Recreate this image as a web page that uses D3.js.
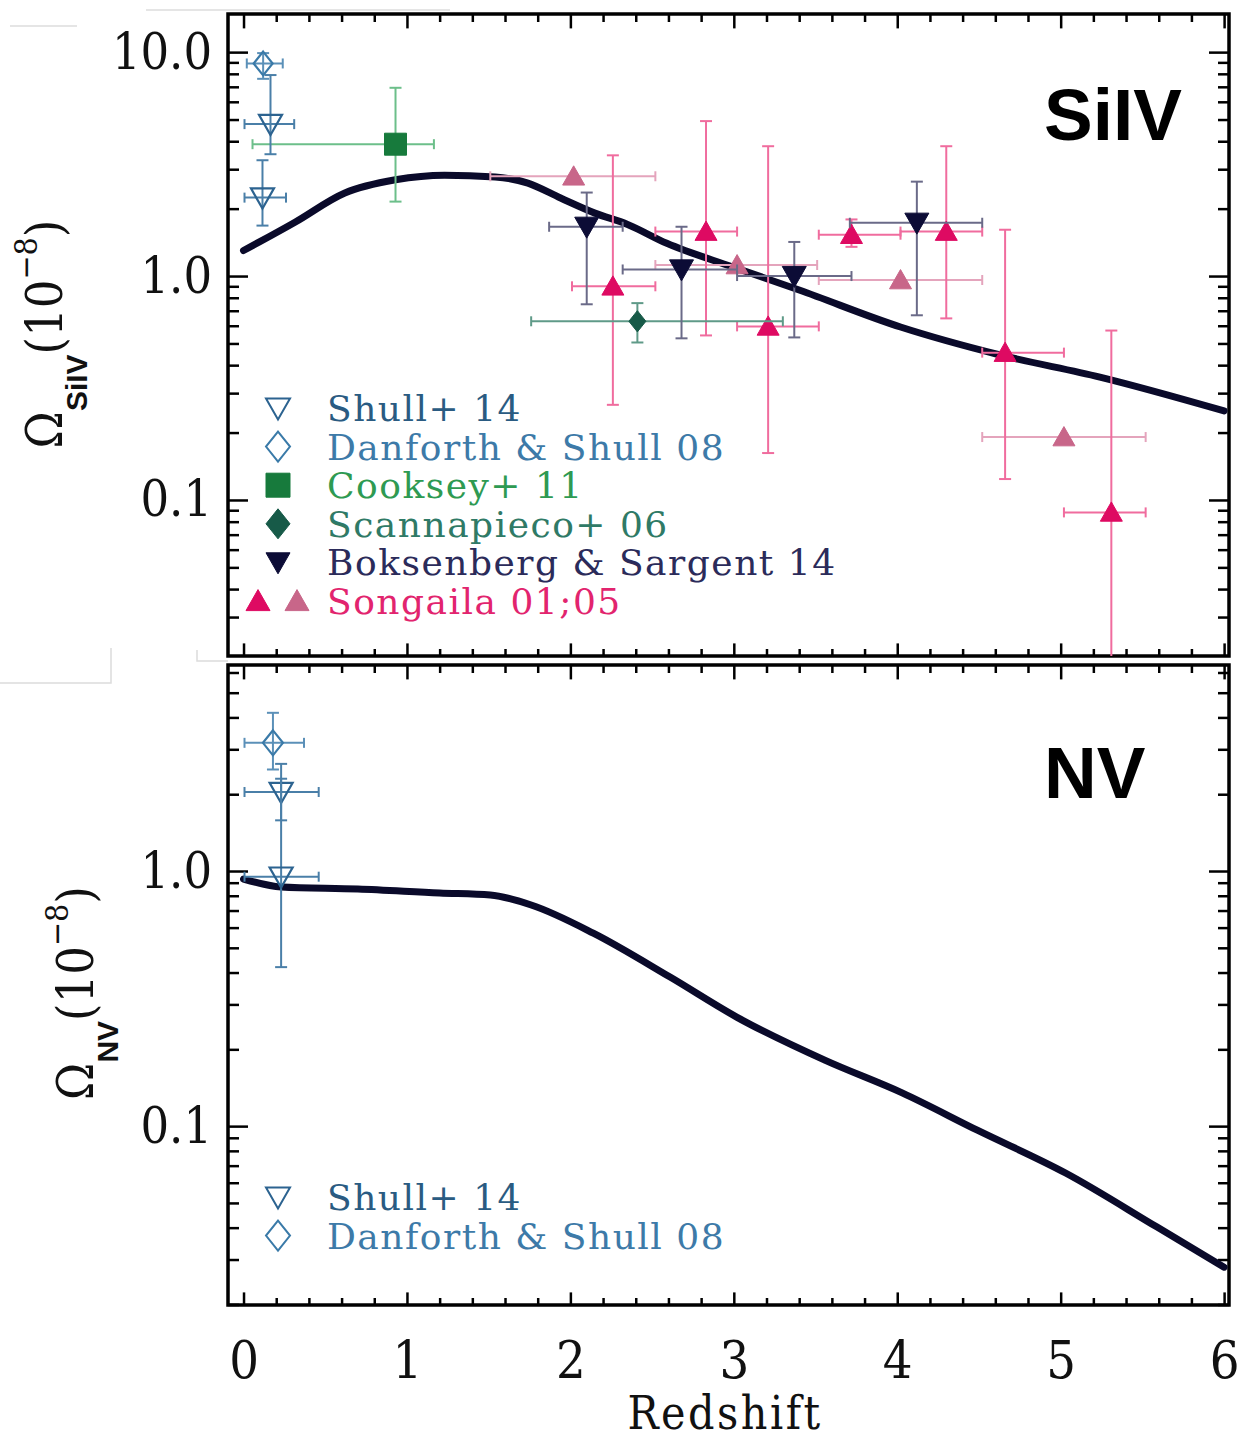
<!DOCTYPE html>
<html>
<head>
<meta charset="utf-8">
<script src="https://cdn.jsdelivr.net/npm/d3@7"></script>
<style>
  body { margin: 0; background: #fff; }
  .serif { font-family: "DejaVu Serif Condensed", "DejaVu Serif", serif; font-stretch: condensed; }
</style>
</head>
<body>
<div id="grafico"></div>
<script>
// Curvas del modelo (redshift, Omega en unidades de 1e-8)
const zModeloSiIV = [0.0, 0.315, 0.62, 0.93, 1.23, 1.54, 1.74, 1.94, 2.15, 2.35, 2.59, 2.99, 3.40, 4.02, 4.63, 5.24, 6.0];
const vModeloSiIV = [1.30, 1.74, 2.35, 2.69, 2.82, 2.77, 2.60, 2.23, 1.91, 1.70, 1.40, 1.10, 0.866, 0.592, 0.444, 0.354, 0.25];
const zModeloNV = [0.0, 0.23, 0.7, 1.20, 1.51, 1.76, 2.14, 2.61, 3.02, 3.56, 4.03, 4.49, 5.03, 5.59, 6.0];
const vModeloNV = [0.93, 0.866, 0.85, 0.82, 0.805, 0.736, 0.571, 0.384, 0.267, 0.181, 0.135, 0.0964, 0.0655, 0.0402, 0.028];

// Observaciones: [z, zMin, zMax, valor, valorMin, valorMax]
const shullSiIV = [[0.165, 0.006, 0.31, 4.77, 3.5, 7.9], [0.116, 0.006, 0.26, 2.24, 1.68, 3.29]];
const danforthSiIV = [[0.12, 0.02, 0.24, 8.9, 7.6, 9.9]];
const cookseySiIV = [[0.93, 0.055, 1.165, 3.88, 2.15, 6.93]];
const scannapiecoSiIV = [[2.41, 1.76, 3.3, 0.628, 0.505, 0.757]];
const boksenbergSiIV = [
  [2.10, 1.87, 2.32, 1.66, 0.748, 2.36],
  [2.68, 2.32, 3.02, 1.07, 0.527, 1.66],
  [3.37, 3.02, 3.72, 1.0, 0.532, 1.42],
  [4.12, 3.71, 4.52, 1.73, 0.668, 2.64]
];
const songaila01SiIV = [
  [2.26, 2.01, 2.52, 0.90, 0.266, 3.46],
  [2.83, 2.52, 3.02, 1.58, 0.543, 4.92],
  [3.21, 3.02, 3.52, 0.596, 0.162, 3.8],
  [3.72, 3.52, 4.02, 1.53, 1.35, 1.79],
  [4.30, 4.02, 4.52, 1.58, 0.647, 3.8],
  [4.66, 4.52, 5.02, 0.455, 0.124, 1.61],
  [5.31, 5.02, 5.52, 0.088, 0.005, 0.571]
];
const songaila05SiIV = [
  [2.02, 1.51, 2.52, 2.79, 2.79, 2.79],
  [3.02, 2.52, 3.51, 1.12, 1.12, 1.12],
  [4.02, 3.52, 4.52, 0.96, 0.96, 0.96],
  [5.02, 4.52, 5.52, 0.191, 0.191, 0.191]
];
const shullNV = [[0.23, 0.006, 0.46, 2.04, 1.58, 2.63], [0.23, 0.006, 0.46, 0.95, 0.42, 2.3]];
const danforthNV = [[0.18, 0.006, 0.37, 3.18, 2.5, 4.17]];

const ticksX = [0, 1, 2, 3, 4, 5, 6];
const ticksYSiIV = [0.1, 1, 10];
const ticksYNV = [0.1, 1];
const textosLeyendaSiIV = ["Shull+ 14", "Danforth & Shull 08", "Cooksey+ 11", "Scannapieco+ 06", "Boksenberg & Sargent 14", "Songaila 01;05"];
const textosLeyendaNV = ["Shull+ 14", "Danforth & Shull 08"];

// Estilos por serie
const estilos = {
  shull: { color: "#2c6390", barra: "#4a7fa8", texto: "#2a5b82", simbolo: "trianguloAbajo", relleno: false },
  danforth: { color: "#3a7aa8", barra: "#5b90b8", texto: "#3d7aa8", simbolo: "rombo", relleno: false },
  cooksey: { color: "#177a3c", barra: "#6cbf8a", texto: "#2e9a52", simbolo: "cuadrado", relleno: true },
  scannapieco: { color: "#175a48", barra: "#5f9a88", texto: "#2f7a66", simbolo: "rombo", relleno: true },
  boksenberg: { color: "#0c0c36", barra: "#6a6a88", texto: "#2b2b5a", simbolo: "trianguloAbajo", relleno: true },
  songaila01: { color: "#de0a62", barra: "#f06c9e", texto: "#e2246e", simbolo: "trianguloArriba", relleno: true },
  songaila05: { color: "#c86689", barra: "#e4a4bc", texto: "#e2246e", simbolo: "trianguloArriba", relleno: true }
};

const ancho = 1245, alto = 1443;
const svg = d3.select("#grafico").append("svg").attr("width", ancho).attr("height", alto);

// artefactos grises del escaneo original
const gris = svg.append("g").attr("stroke", "#dcdcdc").attr("stroke-width", 1.5).attr("fill", "none");
gris.append("path").attr("d", "M10,26H77");
gris.append("path").attr("d", "M146,10H450");
gris.append("path").attr("d", "M0,683H111V648");
gris.append("path").attr("d", "M197,650V661H228");

const escalaX = d3.scaleLinear().domain([-0.095, 6.03]).range([228, 1229]);

function rutaSimbolo(tipo, t) {
  const h = t / 2;
  if (tipo === "trianguloAbajo") return `M${-h},${-h * 0.8}L${h},${-h * 0.8}L0,${h * 0.95}Z`;
  if (tipo === "trianguloArriba") return `M${-h},${h * 0.8}L${h},${h * 0.8}L0,${-h * 0.95}Z`;
  if (tipo === "rombo") return `M0,${-h * 1.25}L${h},0L0,${h * 1.25}L${-h},0Z`;
  return `M${-h},${-h}H${h}V${h}H${-h}Z`;
}

function dibujarPanel(cfg) {
  const g = svg.append("g");
  const y = d3.scaleLog().domain(cfg.dominio).range([cfg.abajo, cfg.arriba]);
  const [x0, x1] = escalaX.range();

  // ticks menores y mayores de X (arriba y abajo)
  const menoresX = d3.range(0, 6.01, 0.2).filter(v => Math.abs(v - Math.round(v)) > 1e-6);
  [[d3.axisBottom, cfg.abajo, -7], [d3.axisTop, cfg.arriba, -8]].forEach(([eje, yy, tam]) => {
    g.append("g").attr("transform", `translate(0,${yy})`)
      .call(eje(escalaX).tickValues(menoresX).tickSize(tam).tickFormat(""))
      .call(s => s.select(".domain").remove());
    g.append("g").attr("transform", `translate(0,${yy})`)
      .call(eje(escalaX).tickValues(ticksX).tickSize(tam * 1.8).tickFormat(""))
      .call(s => s.select(".domain").remove());
  });

  // ticks menores y mayores de Y (izquierda y derecha)
  const [dMin, dMax] = cfg.dominio;
  const menoresY = [];
  for (let e = -3; e <= 2; e++) for (let k = 2; k <= 9; k++) {
    const v = k * Math.pow(10, e);
    if (v > dMin && v < dMax) menoresY.push(v);
  }
  [[d3.axisLeft, x0], [d3.axisRight, x1]].forEach(([eje, xx]) => {
    g.append("g").attr("transform", `translate(${xx},0)`)
      .call(eje(y).tickValues(menoresY).tickSize(-11).tickFormat(""))
      .call(s => s.select(".domain").remove());
    g.append("g").attr("transform", `translate(${xx},0)`)
      .call(eje(y).tickValues(cfg.ticksY).tickSize(-20).tickFormat(""))
      .call(s => s.select(".domain").remove());
  });
  g.selectAll(".tick line").attr("stroke", "#000").attr("stroke-width", 2.5);

  // etiquetas del eje Y
  g.append("g").attr("transform", `translate(${x0},0)`)
    .call(d3.axisLeft(y).tickValues(cfg.ticksY).tickSize(0).tickPadding(16).tickFormat(d3.format(".1f")))
    .call(s => s.select(".domain").remove())
    .selectAll("text").attr("class", "serif").attr("font-size", 50).attr("fill", "#111");

  // marco
  g.append("rect").attr("x", x0).attr("y", cfg.arriba).attr("width", x1 - x0).attr("height", cfg.abajo - cfg.arriba)
    .attr("fill", "none").attr("stroke", "#000").attr("stroke-width", 3.5);

  // curva del modelo
  const datosModelo = cfg.modeloZ.map((z, i) => [z, cfg.modeloV[i]]);
  g.append("path").datum(datosModelo)
    .attr("fill", "none").attr("stroke", "#0a0a2a").attr("stroke-width", 7).attr("stroke-linecap", "round")
    .attr("d", d3.line().x(d => escalaX(d[0])).y(d => y(d[1])).curve(d3.curveMonotoneX));

  // puntos con barras de error
  const clip = "clip" + cfg.nombre;
  g.append("clipPath").attr("id", clip).append("rect")
    .attr("x", x0).attr("y", cfg.arriba).attr("width", x1 - x0).attr("height", cfg.abajo - cfg.arriba);
  const capa = g.append("g").attr("clip-path", `url(#${clip})`);
  cfg.series.forEach(([datos, est, tam]) => {
    const e = estilos[est];
    datos.forEach(d => {
      const cx = escalaX(d[0]), cy = y(d[3]);
      const b = capa.append("g").attr("stroke", e.barra).attr("stroke-width", 2).attr("fill", "none");
      b.append("line").attr("x1", escalaX(d[1])).attr("x2", escalaX(d[2])).attr("y1", cy).attr("y2", cy);
      b.append("line").attr("x1", escalaX(d[1])).attr("x2", escalaX(d[1])).attr("y1", cy - 5).attr("y2", cy + 5);
      b.append("line").attr("x1", escalaX(d[2])).attr("x2", escalaX(d[2])).attr("y1", cy - 5).attr("y2", cy + 5);
      if (d[4] !== d[5]) {
        b.append("line").attr("x1", cx).attr("x2", cx).attr("y1", y(d[4])).attr("y2", y(d[5]));
        b.append("line").attr("x1", cx - 6).attr("x2", cx + 6).attr("y1", y(d[4])).attr("y2", y(d[4]));
        b.append("line").attr("x1", cx - 6).attr("x2", cx + 6).attr("y1", y(d[5])).attr("y2", y(d[5]));
      }
      capa.append("path").attr("transform", `translate(${cx},${cy})`)
        .attr("d", rutaSimbolo(e.simbolo, tam))
        .attr("fill", e.relleno ? e.color : "none")
        .attr("stroke", e.color).attr("stroke-width", e.relleno ? 1 : 2.2);
    });
  });

  // leyenda
  cfg.leyenda.forEach(([texto, claves], i) => {
    const yy = cfg.leyendaY + i * 38.6;
    claves.forEach((k, j) => {
      const e = estilos[k];
      const sx = claves.length > 1 ? 258 + j * 39 : 278;
      g.append("path").attr("transform", `translate(${sx},${yy - 13})`)
        .attr("d", rutaSimbolo(e.simbolo, 24))
        .attr("fill", e.relleno ? e.color : "none")
        .attr("stroke", e.color).attr("stroke-width", e.relleno ? 1 : 2);
    });
    g.append("text").attr("x", 327).attr("y", yy)
      .attr("font-family", "DejaVu Serif, serif").attr("font-size", 36).attr("letter-spacing", 1.5)
      .attr("fill", estilos[claves[0]].texto).text(texto);
  });

  // etiqueta del ion
  g.append("text").attr("x", cfg.ionX).attr("y", cfg.ionY)
    .attr("font-family", "Liberation Sans, Arial, sans-serif").attr("font-weight", "bold")
    .attr("font-size", 73).attr("fill", "#000").text(cfg.ion);

  // título del eje Y
  const t = g.append("text").attr("class", "serif").attr("fill", "#111")
    .attr("transform", `translate(${cfg.tituloX},${cfg.tituloY}) rotate(-90)`).attr("text-anchor", "middle");
  t.append("tspan").attr("font-size", 50).text("Ω");
  t.append("tspan").attr("font-family", "Liberation Sans, Arial, sans-serif").attr("font-weight", "bold")
    .attr("font-size", 30).attr("dy", 25).text(cfg.ion);
  t.append("tspan").attr("font-size", 50).attr("dy", -25).text("(10");
  t.append("tspan").attr("font-size", 32).attr("dy", -25).text("−8");
  t.append("tspan").attr("font-size", 50).attr("dy", 25).text(")");

  return y;
}

dibujarPanel({
  nombre: "SiIV", ion: "SiIV", dominio: [0.0201, 14.8], arriba: 14, abajo: 656, ticksY: ticksYSiIV,
  modeloZ: zModeloSiIV, modeloV: vModeloSiIV,
  series: [
    [songaila05SiIV, "songaila05", 22], [songaila01SiIV, "songaila01", 22],
    [scannapiecoSiIV, "scannapieco", 17], [boksenbergSiIV, "boksenberg", 24],
    [cookseySiIV, "cooksey", 22], [shullSiIV, "shull", 23], [danforthSiIV, "danforth", 19]
  ],
  leyenda: textosLeyendaSiIV.map((txt, i) => [txt, [["shull"], ["danforth"], ["cooksey"], ["scannapieco"], ["boksenberg"], ["songaila01", "songaila05"]][i]]),
  leyendaY: 421, ionX: 1044, ionY: 140, tituloX: 62, tituloY: 334
});

dibujarPanel({
  nombre: "NV", ion: "NV", dominio: [0.0199, 6.42], arriba: 665, abajo: 1305, ticksY: ticksYNV,
  modeloZ: zModeloNV, modeloV: vModeloNV,
  series: [[shullNV, "shull", 23], [danforthNV, "danforth", 20]],
  leyenda: textosLeyendaNV.map((txt, i) => [txt, [["shull"], ["danforth"]][i]]),
  leyendaY: 1210, ionX: 1044, ionY: 798, tituloX: 93, tituloY: 993
});

// eje X inferior con etiquetas
svg.append("g").attr("transform", "translate(0,1305)")
  .call(d3.axisBottom(escalaX).tickValues(ticksX).tickSize(0).tickPadding(36).tickFormat(d3.format("d")))
  .call(s => s.select(".domain").remove())
  .selectAll("text").attr("class", "serif").attr("font-size", 52).attr("fill", "#111");

svg.append("text").attr("class", "serif").attr("x", 725).attr("y", 1429).attr("text-anchor", "middle")
  .attr("font-size", 46).attr("letter-spacing", 2.5).attr("fill", "#111").text("Redshift");
</script>
</body>
</html>
